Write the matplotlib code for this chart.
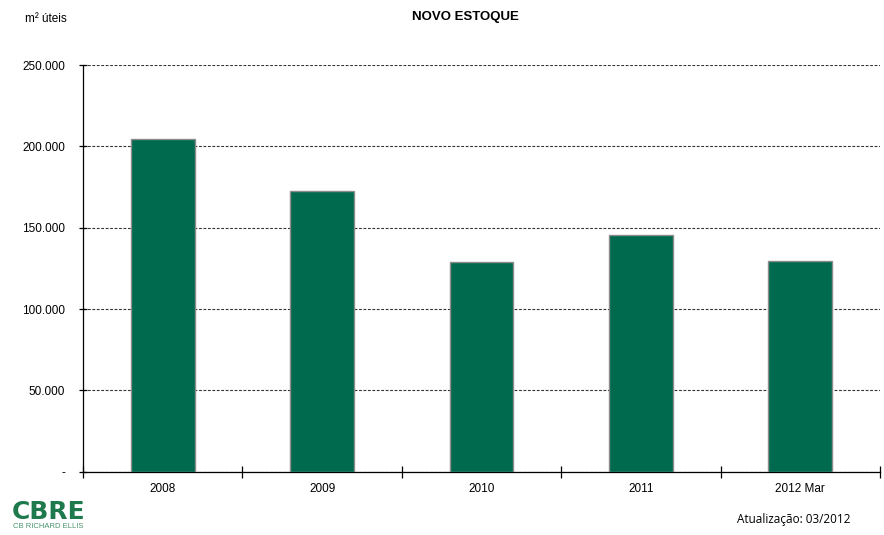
import matplotlib
matplotlib.use("Agg")
import matplotlib.pyplot as plt
from matplotlib.ticker import FixedLocator, FuncFormatter
import numpy as np

# Novo estoque (m² úteis) por período
periodos = ["2008", "2009", "2010", "2011", "2012 Mar"]
novo_estoque = [204500, 172800, 129000, 145600, 129400]
y_ticks = [0, 50000, 100000, 150000, 200000, 250000]

BAR_GREEN = "#006A4E"
LOGO_GREEN = "#1E7A4C"

plt.rcParams["font.family"] = ["Liberation Sans", "DejaVu Sans"]

fig = plt.figure(figsize=(8.84, 5.35), dpi=100)
ax = fig.add_axes([83 / 884, 1 - 471.7 / 535, 797 / 884, (471.7 - 65) / 535])

x = np.arange(len(periodos))
ax.bar(x, novo_estoque, width=0.40, color=BAR_GREEN, edgecolor="#8C8C8C",
       linewidth=1.0, zorder=3)

ax.set_xlim(-0.5, len(periodos) - 0.5)
ax.set_ylim(0, 250000)

ax.yaxis.set_major_locator(FixedLocator(y_ticks))


def fmt_milhar(v, pos):
    if v == 0:
        return "-"
    return f"{int(v):,}".replace(",", ".")


ax.yaxis.set_major_formatter(FuncFormatter(fmt_milhar))
ax.grid(axis="y", linestyle=(0, (2.5, 1.5)), color="#333333", linewidth=0.8, zorder=1)

# category ticks at boundaries, labels centred on bars
ax.set_xticks(np.arange(len(periodos) + 1) - 0.5)
ax.set_xticklabels([])
ax.set_xticks(x, minor=True)
ax.set_xticklabels(periodos, minor=True)
ax.tick_params(axis="x", which="major", direction="inout", length=8, width=0.9, color="black")
ax.tick_params(axis="x", which="minor", length=0, pad=8, labelsize=8.5)
ax.tick_params(axis="y", direction="inout", length=6, width=0.9, pad=10, labelsize=8.5)

for s in ("top", "right"):
    ax.spines[s].set_visible(False)
ax.spines["left"].set_color("black")
ax.spines["bottom"].set_color("black")
ax.spines["left"].set_linewidth(0.9)
ax.spines["bottom"].set_linewidth(0.9)

fig.text(465 / 884, 1 - 17 / 535, "NOVO ESTOQUE", ha="center", va="center",
         fontsize=9.5, fontweight="bold")
fig.text(25 / 884, 1 - 19 / 535, "m² úteis", ha="left", va="center", fontsize=8.5)

fig.text(737 / 884, 1 - 519 / 535, "Atualização: 03/2012", ha="left", va="center",
         fontsize=8.5, family=["Open Sans", "DejaVu Sans"])

# logo
fig.text(12 / 884, 1 - 512 / 535, "CBRE", ha="left", va="center", fontsize=18,
         fontweight="bold", color=LOGO_GREEN, family=["DejaVu Sans"])
fig.text(13 / 884, 1 - 527 / 535, "CB RICHARD ELLIS", ha="left", va="center",
         fontsize=5.5, color=LOGO_GREEN, alpha=0.8)

fig.savefig("out.png", dpi=100)
